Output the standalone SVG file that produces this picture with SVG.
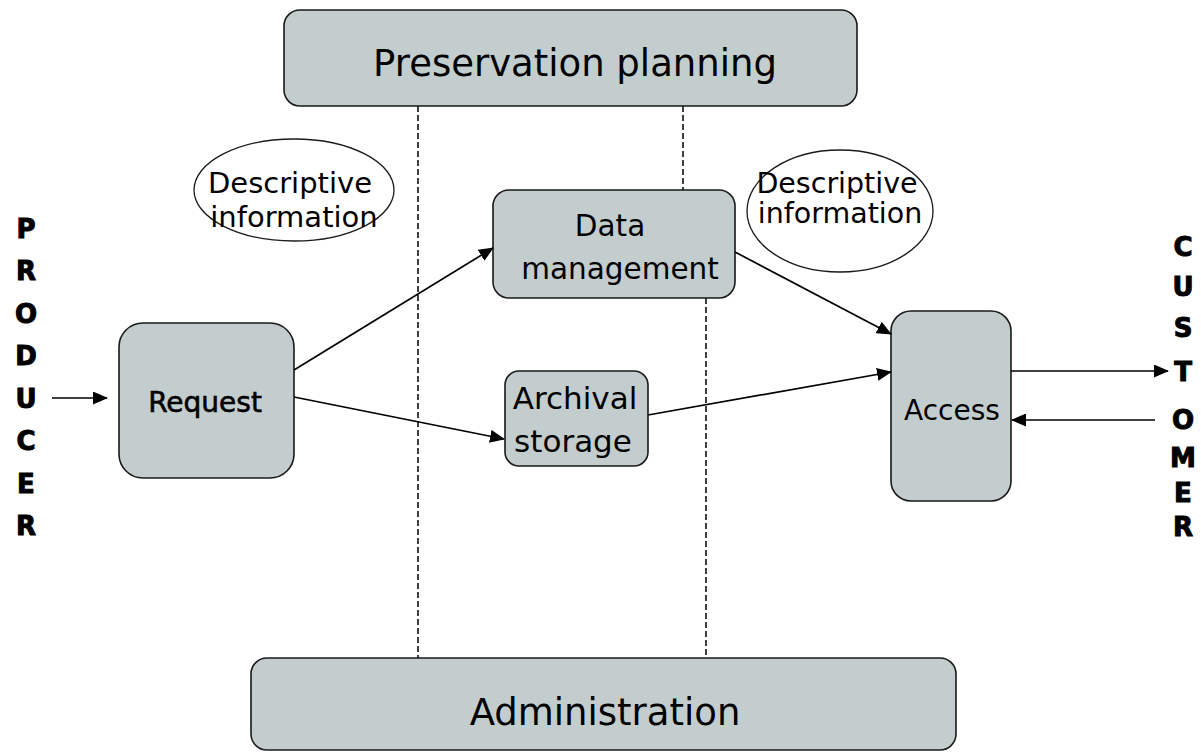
<svg xmlns="http://www.w3.org/2000/svg" width="1201" height="753" viewBox="0 0 1201 753">
<style>
.box{fill:#c3cdcd;stroke:#1a1a1a;stroke-width:1.6}
.ell{fill:#ffffff;stroke:#1a1a1a;stroke-width:1.3}
.t{font-family:"DejaVu Sans",Verdana,sans-serif;fill:#000;text-anchor:middle}
.side{font-family:"DejaVu Sans",Verdana,sans-serif;font-weight:bold;font-size:26px;fill:#000;stroke:#000;stroke-width:1;text-anchor:middle}
.ln{stroke:#000;stroke-width:1.7;fill:none}
.dash{stroke:#000;stroke-width:1.5;stroke-dasharray:6 3;fill:none}
</style>
<defs>
<marker id="ah" markerWidth="15" markerHeight="13" refX="14" refY="6.5" orient="auto" markerUnits="userSpaceOnUse">
<path d="M0,0 L15,6.5 L0,13 Z" fill="#000"/>
</marker>
</defs>
<rect width="1201" height="753" fill="#ffffff"/>
<g id="dashed-lines">
<line class="dash" x1="418" y1="106" x2="418" y2="658"/>
<line class="dash" x1="683" y1="106" x2="683" y2="190"/>
<line class="dash" x1="706" y1="298" x2="706" y2="658"/>
</g>
<g id="preservation-planning">
<rect class="box" x="284" y="10" width="573" height="96" rx="16"/>
<text class="t" x="575" y="76" font-size="37">Preservation planning</text>
</g>
<g id="administration">
<rect class="box" x="251" y="658" width="705" height="92" rx="16"/>
<text class="t" x="605" y="725" font-size="37">Administration</text>
</g>
<g id="descriptive-left">
<ellipse class="ell" cx="294" cy="190" rx="100" ry="51"/>
<text class="t" x="290" y="193" font-size="29">Descriptive</text>
<text class="t" x="294" y="227" font-size="29">information</text>
</g>
<g id="descriptive-right">
<ellipse class="ell" cx="840" cy="211" rx="93" ry="61"/>
<text class="t" x="837" y="193" font-size="28.5">Descriptive</text>
<text class="t" x="840" y="223" font-size="28.5">information</text>
</g>
<g id="data-management">
<rect class="box" x="493" y="190" width="242" height="108" rx="16"/>
<text class="t" x="610" y="236" font-size="29.5">Data</text>
<text class="t" x="620" y="279" font-size="29.5">management</text>
</g>
<g id="request">
<rect class="box" x="119" y="323" width="175" height="155" rx="24"/>
<text class="t" x="205" y="412" font-size="28" stroke="#000" stroke-width="0.6">Request</text>
</g>
<g id="archival-storage">
<rect class="box" x="505" y="371" width="143" height="95" rx="14"/>
<text class="t" x="575" y="409" font-size="31">Archival</text>
<text class="t" x="573" y="452" font-size="31">storage</text>
</g>
<g id="access">
<rect class="box" x="891" y="311" width="120" height="190" rx="20"/>
<text class="t" x="952" y="420" font-size="28">Access</text>
</g>
<g id="producer">
<text class="side" x="26" y="238">P</text>
<text class="side" x="26" y="280">R</text>
<text class="side" x="26" y="323">O</text>
<text class="side" x="26" y="365">D</text>
<text class="side" x="26" y="408">U</text>
<text class="side" x="26" y="450">C</text>
<text class="side" x="26" y="493">E</text>
<text class="side" x="26" y="535">R</text>
</g>
<g id="customer">
<text class="side" x="1183" y="256">C</text>
<text class="side" x="1183" y="296">U</text>
<text class="side" x="1183" y="337">S</text>
<text class="side" x="1183" y="381">T</text>
<text class="side" x="1183" y="429">O</text>
<text class="side" x="1183" y="467">M</text>
<text class="side" x="1183" y="502">E</text>
<text class="side" x="1183" y="536">R</text>
</g>
<g id="connectors">
<line class="ln" x1="52" y1="398" x2="107" y2="398" marker-end="url(#ah)"/>
<line class="ln" x1="294" y1="370" x2="493" y2="248" marker-end="url(#ah)"/>
<line class="ln" x1="294" y1="397" x2="504" y2="439" marker-end="url(#ah)"/>
<line class="ln" x1="735" y1="252" x2="891" y2="334" marker-end="url(#ah)"/>
<line class="ln" x1="648" y1="415" x2="891" y2="372" marker-end="url(#ah)"/>
<line class="ln" x1="1011" y1="371" x2="1168" y2="371" marker-end="url(#ah)"/>
<line class="ln" x1="1155" y1="420" x2="1012" y2="420" marker-end="url(#ah)"/>
</g>
</svg>
